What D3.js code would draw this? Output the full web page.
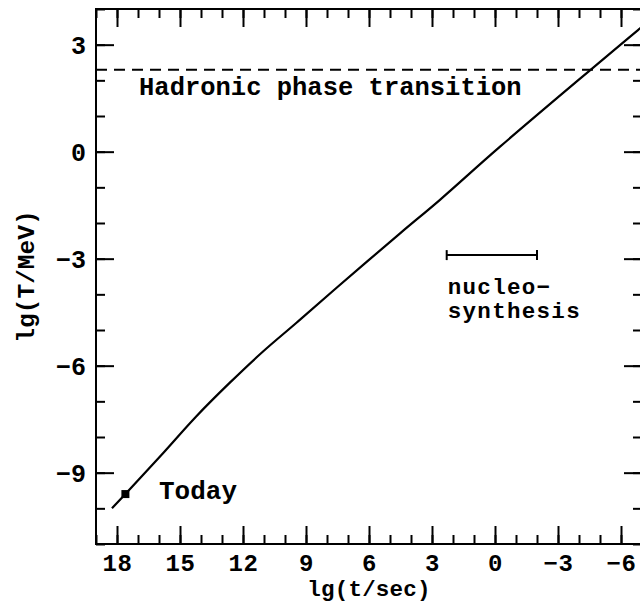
<!DOCTYPE html>
<html>
<head>
<meta charset="utf-8">
<script src="https://cdn.jsdelivr.net/npm/d3@7"></script>
<style>
  html, body { margin: 0; padding: 0; background: #fff; }
  svg { display: block; }
  text { font-family: "Liberation Mono", "DejaVu Sans Mono", monospace; font-weight: bold; fill: #000; }
</style>
</head>
<body>
<svg id="chart" width="640" height="606"></svg>
<script>
// Temperature of the universe versus cosmic time (log-log)
const xDomain = [19, -7];          // lg(t/sec), time runs right-to-left
const yDomain = [-11, 4];          // lg(T/MeV)
const xMajorTicks = [18, 15, 12, 9, 6, 3, 0, -3, -6];
const yMajorTicks = [3, 0, -3, -6, -9];
const xMinorTicks = d3.range(-7, 20, 1);
const yMinorTicks = d3.range(-11, 5, 1);

// cooling curve T(t)
const curveT = [18.24, 17.6, 15.82, 14.24, 12.65, 11.06, 9.48, 7.57, 4.52, 2.62, -0.24, -6.81, -7.0];
const curveLgT = [-10.0, -9.6, -8.46, -7.43, -6.49, -5.61, -4.81, -3.83, -2.29, -1.35, 0.14, 3.41, 3.5];

const today = { t: 17.6, T: -9.6, label: "Today" };
const hadronic = { T: 2.3, label: "Hadronic phase transition" };
const nucleo = { t0: 2.3, t1: -2.0, T: -2.9, lines: ["nucleo\u2212", "synthesis"] };

const xLabel = "lg(t/sec)";
const yLabel = "lg(T/MeV)";

const svg = d3.select("#chart");
const m = { left: 96, right: 642, top: 9, bottom: 544 };

const x = d3.scaleLinear().domain(xDomain).range([m.left, m.right]);
const y = d3.scaleLinear().domain(yDomain).range([m.bottom, m.top]);

const fmt = d => d < 0 ? "\u2212" + Math.abs(d) : String(d);

// clip for plotted data
svg.append("clipPath").attr("id", "plotclip")
  .append("rect").attr("x", m.left).attr("y", m.top)
  .attr("width", m.right - m.left).attr("height", m.bottom - m.top);

const axisStyle = g => {
  g.select(".domain").remove();
  g.selectAll("line").attr("stroke", "#000").attr("stroke-width", 2);
};

// bottom axis (ticks inward)
svg.append("g").attr("transform", `translate(0,${m.bottom})`)
  .call(d3.axisBottom(x).tickValues(xMinorTicks).tickSize(-9).tickFormat(""))
  .call(axisStyle);
svg.append("g").attr("transform", `translate(0,${m.bottom})`)
  .call(d3.axisBottom(x).tickValues(xMajorTicks).tickSize(-18).tickFormat(fmt))
  .call(axisStyle)
  .call(g => g.selectAll("text").attr("font-size", 24).attr("letter-spacing", 0.6)
    .attr("dy", 0).attr("y", 27));

// top axis
svg.append("g").attr("transform", `translate(0,${m.top})`)
  .call(d3.axisTop(x).tickValues(xMinorTicks).tickSize(-9).tickFormat(""))
  .call(axisStyle);
svg.append("g").attr("transform", `translate(0,${m.top})`)
  .call(d3.axisTop(x).tickValues(xMajorTicks).tickSize(-18).tickFormat(""))
  .call(axisStyle);

// left axis
svg.append("g").attr("transform", `translate(${m.left},0)`)
  .call(d3.axisLeft(y).tickValues(yMinorTicks).tickSize(-9).tickFormat(""))
  .call(axisStyle);
svg.append("g").attr("transform", `translate(${m.left},0)`)
  .call(d3.axisLeft(y).tickValues(yMajorTicks).tickSize(-18).tickFormat(fmt))
  .call(axisStyle)
  .call(g => g.selectAll("text").attr("font-size", 25).attr("x", -10).attr("dy", "0.36em"));

// right axis
svg.append("g").attr("transform", `translate(${m.right},0)`)
  .call(d3.axisRight(y).tickValues(yMinorTicks).tickSize(-9).tickFormat(""))
  .call(axisStyle);
svg.append("g").attr("transform", `translate(${m.right},0)`)
  .call(d3.axisRight(y).tickValues(yMajorTicks).tickSize(-18).tickFormat(""))
  .call(axisStyle);

// frame
svg.append("rect")
  .attr("x", m.left).attr("y", m.top)
  .attr("width", m.right - m.left).attr("height", m.bottom - m.top)
  .attr("fill", "none").attr("stroke", "#000").attr("stroke-width", 2);

const plot = svg.append("g").attr("clip-path", "url(#plotclip)");

// hadronic phase transition line
plot.append("line")
  .attr("x1", x(xDomain[0])).attr("x2", x(xDomain[1]))
  .attr("y1", y(hadronic.T)).attr("y2", y(hadronic.T))
  .attr("stroke", "#000").attr("stroke-width", 2)
  .attr("stroke-dasharray", "11,7");
svg.append("text")
  .attr("x", x(16.95)).attr("y", y(1.59))
  .attr("font-size", 25.5)
  .text(hadronic.label);

// cooling curve
const pts = curveT.map((t, i) => [t, curveLgT[i]]);
plot.append("path")
  .datum(pts)
  .attr("fill", "none").attr("stroke", "#000").attr("stroke-width", 2.2)
  .attr("d", d3.line().x(d => x(d[0])).y(d => y(d[1])).curve(d3.curveCatmullRom));

// today marker
svg.append("rect")
  .attr("x", x(today.t) - 4).attr("y", y(today.T) - 4)
  .attr("width", 8).attr("height", 8).attr("fill", "#000");
svg.append("text")
  .attr("x", x(16.0)).attr("y", y(-9.74))
  .attr("font-size", 26)
  .text(today.label);

// nucleosynthesis interval
const ny = y(nucleo.T);
const ng = svg.append("g").attr("stroke", "#000").attr("stroke-width", 2);
ng.append("line").attr("x1", x(nucleo.t0)).attr("x2", x(nucleo.t1)).attr("y1", ny).attr("y2", ny);
ng.append("line").attr("x1", x(nucleo.t0)).attr("x2", x(nucleo.t0)).attr("y1", ny - 5).attr("y2", ny + 5);
ng.append("line").attr("x1", x(nucleo.t1)).attr("x2", x(nucleo.t1)).attr("y1", ny - 5).attr("y2", ny + 5);
svg.append("text")
  .attr("x", x(2.25)).attr("y", y(-4.0))
  .attr("font-size", 22.5).attr("letter-spacing", 1.3)
  .text(nucleo.lines[0]);
svg.append("text")
  .attr("x", x(2.25)).attr("y", y(-4.66))
  .attr("font-size", 22.5).attr("letter-spacing", 1.3)
  .text(nucleo.lines[1]);

// axis titles
svg.append("text")
  .attr("x", (m.left + m.right) / 2).attr("y", 596)
  .attr("text-anchor", "middle").attr("font-size", 22.5).attr("letter-spacing", 0.2)
  .text(xLabel);
svg.append("text")
  .attr("transform", `translate(34,${(m.top + m.bottom) / 2}) rotate(-90)`)
  .attr("text-anchor", "middle").attr("font-size", 24.5)
  .text(yLabel);
</script>
</body>
</html>
